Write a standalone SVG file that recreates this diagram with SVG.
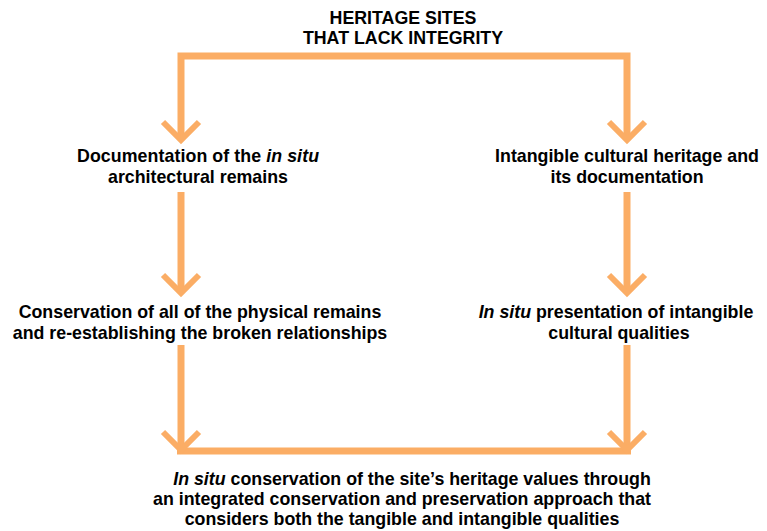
<svg xmlns="http://www.w3.org/2000/svg" width="767" height="531" viewBox="0 0 767 531">
<defs>
<style>
.t{font-family:"Liberation Sans",Arial,sans-serif;font-weight:bold;font-size:17.8px;fill:#000;text-anchor:middle}
.c{fill:none;stroke:#FBAD65;stroke-width:7}
.h{fill:none;stroke:#FBAD65;stroke-width:6}
</style>
</defs>
<rect width="767" height="531" fill="#fff"/>
<g id="connectors">
<path class="c" d="M181 139 V56 H627 V139"/>
<path class="h" d="M163 122 L181 140 L199 122 M609 122 L627 140 L645 122"/>
<path class="c" d="M181 192 V290"/>
<path class="h" d="M163 275 L181 293 L199 275"/>
<path class="c" d="M627 192 V290"/>
<path class="h" d="M609 275 L627 293 L645 275"/>
<path class="c" d="M181 345 V451 M627 345 V451 M177 451 H631"/>
<path class="h" d="M163 432 L181 450 L199 432 M609 432 L627 450 L645 432"/>
</g>
<g id="n-top">
<text class="t" x="403" y="24">HERITAGE SITES</text>
<text class="t" x="403" y="44">THAT LACK INTEGRITY</text>
</g>
<g id="n-doc">
<text class="t" x="198" y="162" textLength="242" lengthAdjust="spacing">Documentation of the <tspan font-style="italic">in situ</tspan></text>
<text class="t" x="198" y="183">architectural remains</text>
</g>
<g id="n-ich">
<text class="t" x="627" y="162">Intangible cultural heritage and</text>
<text class="t" x="627" y="183">its documentation</text>
</g>
<g id="n-cons">
<text class="t" x="200" y="318">Conservation of all of the physical remains</text>
<text class="t" x="200" y="339">and re-establishing the broken relationships</text>
</g>
<g id="n-pres">
<text class="t" x="616" y="318"><tspan font-style="italic">In situ</tspan> presentation of intangible</text>
<text class="t" x="619" y="339">cultural qualities</text>
</g>
<g id="n-final">
<text class="t" x="412" y="485"><tspan font-style="italic">In situ</tspan> conservation of the site’s heritage values through</text>
<text class="t" x="402" y="505">an integrated conservation and preservation approach that</text>
<text class="t" x="402" y="525">considers both the tangible and intangible qualities</text>
</g>
</svg>
